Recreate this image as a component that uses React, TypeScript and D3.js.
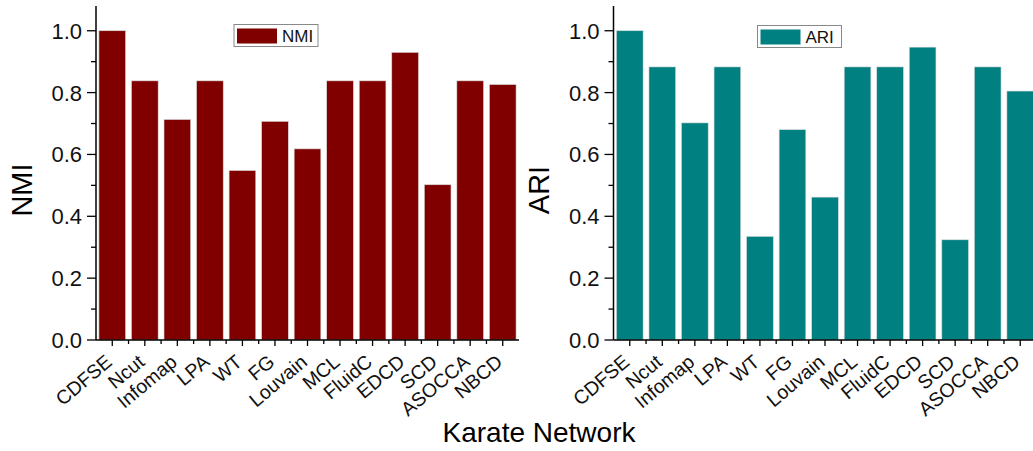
import React from "react";
import * as d3 from "d3";

const categories = ["CDFSE", "Ncut", "Infomap", "LPA", "WT", "FG", "Louvain", "MCL", "FluidC", "EDCD", "SCD", "ASOCCA", "NBCD"];
const nmiValues = [1.0, 0.838, 0.713, 0.838, 0.548, 0.707, 0.618, 0.838, 0.838, 0.93, 0.502, 0.838, 0.826];
const ariValues = [1.0, 0.883, 0.702, 0.883, 0.335, 0.68, 0.462, 0.883, 0.883, 0.947, 0.324, 0.883, 0.805];
const yMajorTicks = [0, 0.2, 0.4, 0.6, 0.8, 1.0];
const yMinorTicks = [0.1, 0.3, 0.5, 0.7, 0.9];
const xTitle = "Karate Network";

const W = 1033;
const H = 451;
const top = 6;
const bottom = 340;
const plotW = 423;
const font = "'Liberation Sans', Arial, sans-serif";

const panels = [
  { name: "NMI", values: nmiValues, color: "#800000", x0: 96, legendDx: 138, legendY: 24.5, titleX: 21.5 },
  { name: "ARI", values: ariValues, color: "#008080", x0: 613.5, legendDx: 144, legendY: 25.5, titleX: 539 },
];

function Panel({ p }: { p: (typeof panels)[number] }) {
  const x = d3.scaleBand<string>().domain(categories).range([p.x0, p.x0 + plotW]).paddingInner(0.18).paddingOuter(0.09);
  const y = d3.scaleLinear().domain([0, 1.08]).range([bottom, top]);
  const step = x.step();
  const bounds = categories.slice(1).map((c) => (x(c) as number) - (step * x.paddingInner()) / 2);
  return (
    <g>
      {categories.map((c, i) => (
        <rect
          key={c}
          x={x(c)}
          y={y(p.values[i])}
          width={x.bandwidth()}
          height={y(0) - y(p.values[i])}
          fill={p.color}
          stroke="#d8d8d8"
          strokeWidth={0.6}
        />
      ))}
      {/* y axis */}
      <line x1={p.x0} x2={p.x0} y1={top} y2={bottom} stroke="#000" strokeWidth={1.5} />
      {yMajorTicks.map((t) => (
        <g key={t}>
          <line x1={p.x0 - 9} x2={p.x0} y1={y(t)} y2={y(t)} stroke="#000" strokeWidth={1.3} />
          <text x={p.x0 - 14} y={y(t)} dy="0.36em" textAnchor="end" fontSize={22} fontFamily={font} fill="#111">
            {d3.format(".1f")(t)}
          </text>
        </g>
      ))}
      {yMinorTicks.map((t) => (
        <line key={t} x1={p.x0 - 5} x2={p.x0} y1={y(t)} y2={y(t)} stroke="#000" strokeWidth={1.3} />
      ))}
      {/* x axis */}
      <line x1={p.x0} x2={p.x0 + plotW} y1={bottom} y2={bottom} stroke="#000" strokeWidth={1.5} />
      {categories.map((c) => {
        const cx = (x(c) as number) + x.bandwidth() / 2;
        return (
          <g key={c}>
            <line x1={cx} x2={cx} y1={bottom} y2={bottom + 6} stroke="#000" strokeWidth={1.3} />
            <text
              transform={`translate(${cx + 1},${bottom + 24}) rotate(-40)`}
              textAnchor="end"
              fontSize={19.5}
              fontFamily={font}
              fill="#111"
            >
              {c}
            </text>
          </g>
        );
      })}
      {bounds.map((b, i) => (
        <line key={i} x1={b} x2={b} y1={bottom} y2={bottom + 4} stroke="#000" strokeWidth={1.3} />
      ))}
      {/* y title */}
      <text
        transform={`translate(${p.titleX + 10},190) rotate(-90)`}
        textAnchor="middle"
        fontSize={29}
        fontFamily={font}
        fill="#000"
      >
        {p.name}
      </text>
      {/* legend */}
      <g transform={`translate(${p.x0 + p.legendDx},${p.legendY})`}>
        <rect x={0} y={0} width={84} height={22} fill="#fff" stroke="#888" strokeWidth={1} />
        <rect x={3} y={4} width={40} height={15} fill={p.color} />
        <text x={48} y={11} dy="0.36em" fontSize={17} fontFamily={font} fill="#111">
          {p.name}
        </text>
      </g>
    </g>
  );
}

export default function App() {
  return (
    <svg width={W} height={H} style={{ position: "absolute", left: 0, top: 0, background: "#fff" }}>
      <rect width={W} height={H} fill="#fff" />
      {panels.map((p) => (
        <Panel key={p.name} p={p} />
      ))}
      <text x={539} y={442} textAnchor="middle" fontSize={28} fontFamily={font} fill="#000">
        {xTitle}
      </text>
    </svg>
  );
}
